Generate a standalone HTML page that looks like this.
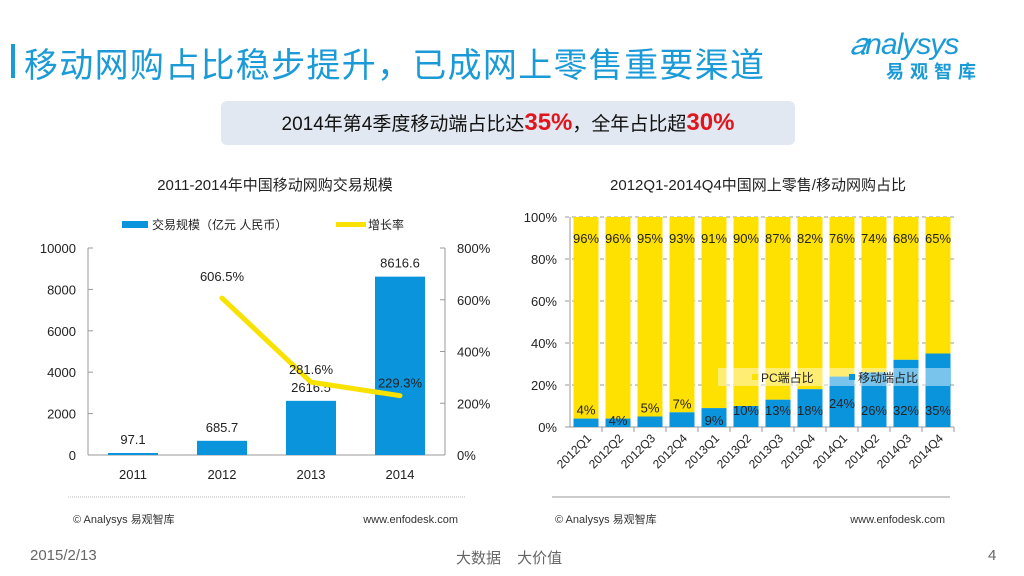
<!DOCTYPE html>
<html><head><meta charset="utf-8"><style>
body{margin:0;width:1024px;height:576px;background:#fff;position:relative;overflow:hidden;font-family:"Liberation Sans","Noto Sans CJK SC",sans-serif}
.abs{position:absolute}
</style></head><body>
<div class="abs" style="left:11px;top:44px;width:4px;height:34px;background:#1a9ad6"></div>
<div class="abs" style="left:24px;top:38px;font-size:34px;color:#1a9ad6;white-space:nowrap;letter-spacing:1.3px">移动网购占比稳步提升，已成网上零售重要渠道</div>
<div class="abs" style="left:850px;top:28px;width:160px;height:60px;color:#1a9ad6">
 <div style="font-size:30px;font-style:italic;letter-spacing:-1px;font-family:'Liberation Sans',sans-serif">&#x1D44E;nalysys</div>
 <div style="font-size:18px;font-weight:bold;margin-left:36px;letter-spacing:6px;margin-top:-4px">易观智库</div>
</div>
<div class="abs" style="left:221px;top:101px;width:574px;height:44px;background:#e2e8f1;border-radius:6px;text-align:center;line-height:44px;font-size:19px;color:#111;white-space:nowrap">2014年第4季度移动端占比达<b style="color:#e2141c;font-size:24px">35%</b>，全年占比超<b style="color:#e2141c;font-size:24px">30%</b></div>
<svg class="abs" style="left:0;top:0" width="1024" height="576" id="svg"></svg>
<div class="abs" style="left:30px;top:547px;font-size:15px;color:#666">2015/2/13</div>
<div class="abs" style="left:456px;top:547px;font-size:15px;color:#666;word-spacing:12px">大数据 大价值</div>
<div class="abs" style="left:988px;top:547px;font-size:15px;color:#666">4</div>
<script>
const years=["2011","2012","2013","2014"];
const scale=[97.1,685.7,2616.5,8616.6];
const scaleLabels=["97.1","685.7","2616.5","8616.6"];
const growth=[null,606.5,281.6,229.3];
const growthLabels=["","606.5%","281.6%","229.3%"];
const leftTicks=[0,2000,4000,6000,8000,10000];
const rightTicks=[0,200,400,600,800];
const quarters=["2012Q1","2012Q2","2012Q3","2012Q4","2013Q1","2013Q2","2013Q3","2013Q4","2014Q1","2014Q2","2014Q3","2014Q4"];
const mobile=[4,4,5,7,9,10,13,18,24,26,32,35];
const pc=[96,96,95,93,91,90,87,82,76,74,68,65];
const pctTicks=[0,20,40,60,80,100];
const NS="http://www.w3.org/2000/svg";
const svg=document.getElementById('svg');
function el(t,a,txt){const e=document.createElementNS(NS,t);for(const k in a)e.setAttribute(k,a[k]);if(txt!=null)e.textContent=txt;svg.appendChild(e);return e;}
const F='"Liberation Sans","Noto Sans CJK SC",sans-serif';
// left chart
const L={x0:88,x1:445,y0:455,y1:248};
const yL=v=>L.y0-(v/10000)*(L.y0-L.y1);
const yR=v=>L.y0-(v/800)*(L.y0-L.y1);
const xL=i=>133+i*89;
let t=el('text',{x:275,y:190,'font-size':15,'text-anchor':'middle','font-family':F,fill:'#222'},'2011-2014年中国移动网购交易规模');

let r=el('rect',{x:122,y:221,width:26,height:7,fill:'#0a94dc'});
t=el('text',{x:152,y:229,'font-size':12,'font-family':F,fill:'#222'},'交易规模（亿元  人民币）');
r=el('rect',{x:336,y:222,width:30,height:5,fill:'#f9e100'});
t=el('text',{x:368,y:229,'font-size':12,'font-family':F,fill:'#222'},'增长率');
el('line',{x1:L.x0,y1:L.y1,x2:L.x0,y2:L.y0,stroke:'#999'});
el('line',{x1:L.x1,y1:L.y1,x2:L.x1,y2:L.y0,stroke:'#999'});
el('line',{x1:L.x0,y1:L.y0,x2:L.x1,y2:L.y0,stroke:'#999'});
leftTicks.forEach(v=>{el('line',{x1:L.x0,x2:L.x0+5,y1:yL(v),y2:yL(v),stroke:'#999'});
 const tt=el('text',{x:76,y:yL(v)+5,'font-size':13,'text-anchor':'end','font-family':F,fill:'#222'},String(v));});
rightTicks.forEach(v=>{el('line',{x1:L.x1-5,x2:L.x1,y1:yR(v),y2:yR(v),stroke:'#999'});
 const tt=el('text',{x:457,y:yR(v)+5,'font-size':13,'font-family':F,fill:'#222'},v+'%');});
years.forEach((y,i)=>{const b=el('rect',{x:xL(i)-25,y:yL(scale[i]),width:50,height:L.y0-yL(scale[i]),fill:'#0a94dc'});
 
 const lb=el('text',{x:xL(i),y:yL(scale[i])-9,'font-size':13,'text-anchor':'middle','font-family':F,fill:'#222'},scaleLabels[i]);
 const xt=el('text',{x:xL(i),y:479,'font-size':13,'text-anchor':'middle','font-family':F,fill:'#222'},y);});
let pts=[];growth.forEach((g,i)=>{if(g!=null)pts.push(xL(i)+','+yR(g));});
let pl=el('polyline',{points:pts.join(' '),fill:'none',stroke:'#f9e100','stroke-width':5,'stroke-linejoin':'round','stroke-linecap':'round'});

growth.forEach((g,i)=>{if(g==null)return;const lb=el('text',{x:xL(i),y:yR(g)-(i==1?17:8),'font-size':13,'text-anchor':'middle','font-family':F,fill:'#222'},growthLabels[i]);});
el('line',{x1:68,x2:466,y1:497,y2:497,stroke:'#bbb','stroke-dasharray':'1 1'});
t=el('text',{x:73,y:523,'font-size':11,'font-family':F,fill:'#333'},'© Analysys 易观智库');
t=el('text',{x:458,y:523,'font-size':11,'text-anchor':'end','font-family':F,fill:'#333'},'www.enfodesk.com');
// right chart
const R={x0:570,x1:954,y0:427,y1:217};
const band=(R.x1-R.x0)/12;
const yP=v=>R.y0-(v/100)*(R.y0-R.y1);
const xP=i=>R.x0+band*i+band/2;
t=el('text',{x:758,y:190,'font-size':15,'text-anchor':'middle','font-family':F,fill:'#222'},'2012Q1-2014Q4中国网上零售/移动网购占比');
pctTicks.forEach(v=>{el('line',{x1:R.x0-5,x2:R.x1,y1:yP(v),y2:yP(v),stroke:'#999','stroke-dasharray':v==0?'':'4 3'});
 const tt=el('text',{x:557,y:yP(v)+5,'font-size':13,'text-anchor':'end','font-family':F,fill:'#222'},v+'%');});
el('line',{x1:R.x0,y1:R.y1,x2:R.x0,y2:R.y0,stroke:'#999'});
quarters.forEach((q,i)=>{const x=xP(i)-12.5;
 const p=el('rect',{x:x,y:yP(100),width:25,height:yP(mobile[i])-yP(100),fill:'#ffe100'});
 const m=el('rect',{x:x,y:yP(mobile[i]),width:25,height:R.y0-yP(mobile[i]),fill:'#0a94dc'});
 el('line',{x1:R.x0+band*(i+1),x2:R.x0+band*(i+1),y1:R.y0,y2:R.y0+5,stroke:'#999'});
 const a=el('text',{x:xP(i),y:yP(100)+26,'font-size':13,'text-anchor':'middle','font-family':F,fill:'#222'},pc[i]+'%');
 const b=el('text',{x:xP(i),y:yP(mobile[i])-4,'font-size':13,'text-anchor':'middle','font-family':F,fill:'#222'},mobile[i]+'%');
 if(mobile[i]>=10)b.setAttribute('y',R.y0-12);
 if(i==1||i==4)b.setAttribute('y',R.y0-2);
 if(i==8)b.setAttribute('y',R.y0-19);
 
 const xt=el('text',{x:0,y:0,'font-size':12,'text-anchor':'end','font-family':F,fill:'#222',transform:'translate('+(xP(i)+6)+','+(R.y0+12)+') rotate(-45)'},q);});
r=el('rect',{x:718,y:368,width:232,height:18,fill:'#fff','fill-opacity':0.45});
el('rect',{x:752,y:374,width:6,height:6,fill:'#ffe100'});
t=el('text',{x:761,y:382,'font-size':12,'font-family':F,fill:'#222'},'PC端占比');
el('rect',{x:849,y:374,width:6,height:6,fill:'#0a94dc'});
t=el('text',{x:858,y:382,'font-size':12,'font-family':F,fill:'#222'},'移动端占比');
el('line',{x1:552,x2:950,y1:497,y2:497,stroke:'#999'});
t=el('text',{x:555,y:523,'font-size':11,'font-family':F,fill:'#333'},'© Analysys 易观智库');
t=el('text',{x:945,y:523,'font-size':11,'text-anchor':'end','font-family':F,fill:'#333'},'www.enfodesk.com');
</script>
</body></html>
